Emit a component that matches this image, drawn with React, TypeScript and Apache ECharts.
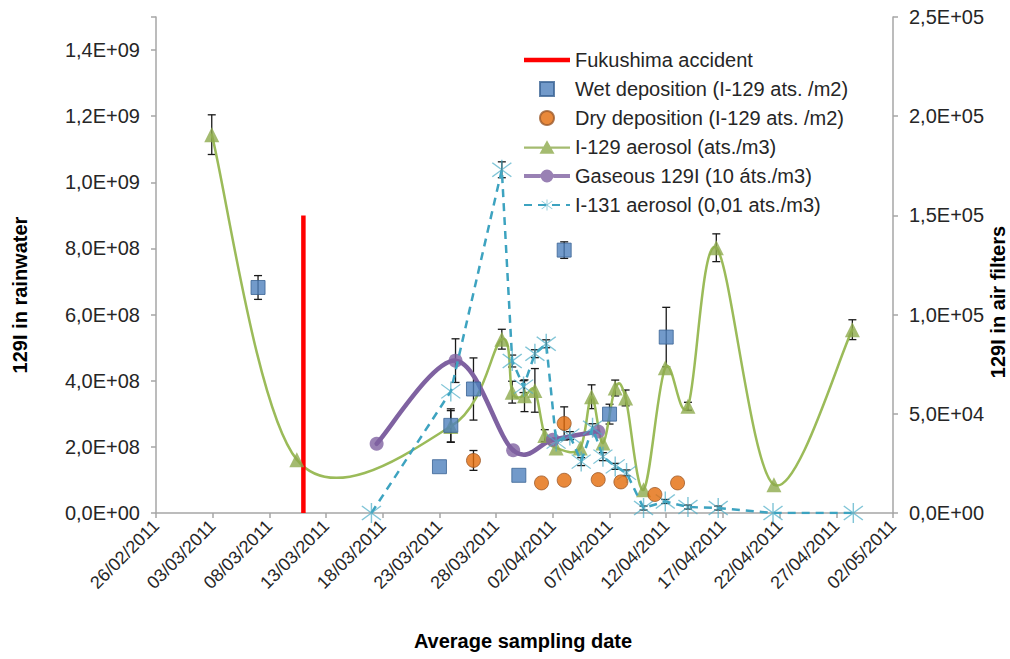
import React, { useEffect, useRef } from 'react';
import * as echarts from 'echarts';

// ---------- data ----------
const baseDate = '2011-02-26T00:00';
const axisEndDate = '2011-05-02T00:00';

const fukushimaDate = '2011-03-11T00:00';
const fukushimaBar = [0, 9.0e8];

const wetDates = ['2011-03-07T00:00', '2011-03-23T00:00', '2011-03-24T00:00', '2011-03-26T00:00', '2011-03-30T00:00', '2011-04-03T00:00', '2011-04-07T00:00', '2011-04-12T00:00'];
const wetValues = [6.82e8, 1.4e8, 2.65e8, 3.75e8, 1.14e8, 7.95e8, 2.99e8, 5.32e8];
const wetErrors = [3.6e7, 0, 5.0e7, 9.4e7, 0, 2.5e7, 3.0e7, 9.0e7];

const dryDates = ['2011-03-26T00:00', '2011-04-01T00:00', '2011-04-03T00:00', '2011-04-03T00:00', '2011-04-06T00:00', '2011-04-08T00:00', '2011-04-11T00:00', '2011-04-13T00:00'];
const dryValues = [1.59e8, 0.91e8, 0.99e8, 2.71e8, 1.01e8, 0.94e8, 0.56e8, 0.91e8];
const dryErrors = [3.0e7, 0, 0, 5.0e7, 0, 0, 0, 0];

const aerosolDates = ['2011-03-02T22:00', '2011-03-10T10:00', '2011-03-24T00:00', '2011-03-28T12:00', '2011-03-29T10:00', '2011-03-30T12:00', '2011-03-31T10:00', '2011-04-01T07:00', '2011-04-02T07:00', '2011-04-04T10:00', '2011-04-05T10:00', '2011-04-06T10:00', '2011-04-07T12:00', '2011-04-08T10:00', '2011-04-10T00:00', '2011-04-11T22:00', '2011-04-13T22:00', '2011-04-16T10:00', '2011-04-21T12:00', '2011-04-28T10:00'];
const aerosolValues = [190700, 26900, 43600, 87600, 60900, 59100, 61800, 39000, 32800, 32800, 58600, 35300, 63000, 58000, 11700, 73200, 53800, 133700, 14300, 92400];
const aerosolErrors = [10000, 0, 8000, 5000, 5500, 8000, 11000, 3000, 0, 0, 6000, 0, 4000, 4000, 0, 0, 2000, 7000, 0, 5000];

const gasDates = ['2011-03-17T11:00', '2011-03-24T10:00', '2011-03-29T12:00', '2011-04-02T00:00', '2011-04-06T00:00'];
const gasValues = [34900, 76800, 31600, 36900, 41100];
const gasErrors = [0, 11000, 0, 0, 0];

const i131Dates = ['2011-03-17T00:00', '2011-03-24T00:00', '2011-03-28T12:00', '2011-03-29T10:00', '2011-03-30T10:00', '2011-03-31T10:00', '2011-04-01T10:00', '2011-04-02T07:00', '2011-04-03T12:00', '2011-04-04T12:00', '2011-04-05T12:00', '2011-04-06T10:00', '2011-04-07T12:00', '2011-04-08T12:00', '2011-04-10T00:00', '2011-04-11T22:00', '2011-04-13T22:00', '2011-04-16T14:00', '2011-04-21T10:00', '2011-04-28T12:00'];
const i131Values = [0, 61300, 173000, 76600, 63700, 80300, 85300, 36000, 39000, 25900, 43000, 28400, 23500, 20200, 2500, 5800, 3000, 2500, 0, 0];
const i131Errors = [0, 0, 4000, 3000, 3000, 2000, 2000, 0, 2000, 2000, 2000, 2000, 1500, 1500, 1000, 1000, 1000, 1000, 0, 0];

const seriesNames = [
  'Fukushima accident',
  'Wet deposition (I-129 ats. /m2)',
  'Dry deposition (I-129 ats. /m2)',
  'I-129 aerosol (ats./m3)',
  'Gaseous 129I (10 áts./m3)',
  'I-131 aerosol (0,01 ats./m3)',
];

const leftAxisName = '129I in rainwater';
const rightAxisName = '129I in air filters';
const xAxisName = 'Average sampling date';

// ---------- helpers ----------
const DAY = 86400000;
const baseMs = Date.parse(baseDate + ':00Z');
const dayOf = (s: string) => (Date.parse(s + ':00Z') - baseMs) / DAY;
const pad = (n: number) => String(n).padStart(2, '0');
const dateLabel = (v: number) => {
  const d = new Date(baseMs + Math.round(v) * DAY);
  return `${pad(d.getUTCDate())}/${pad(d.getUTCMonth() + 1)}/${d.getUTCFullYear()}`;
};
const sci = (v: number) => {
  if (v === 0) return '0,0E+00';
  const e = Math.floor(Math.log10(v) + 1e-9);
  const m = v / Math.pow(10, e);
  return m.toFixed(1).replace('.', ',') + 'E+' + pad(e);
};
const pts = (dates: string[], vals: number[]) => dates.map((d, i) => [dayOf(d), vals[i]]);

const FONT = '"Liberation Sans", Arial, sans-serif';
const AXIS_GRAY = '#A6A6A6';
const TEXT = '#262626';

const GREEN_LINE = '#9BBB59';
const GREEN_MARK = '#8DAA4C';
const PURPLE = '#7F62A1';

const starPath =
  'path://M9.4 0L10.6 0L10.6 20L9.4 20Z M2.4 2.55L18.4 16.55L17.6 17.45L1.6 3.45Z M18.4 3.45L2.4 17.45L1.6 16.55L17.6 2.55Z';

function errorSeries(id: string, dates: string[], vals: number[], errs: number[], yAxisIndex: number) {
  const data = dates
    .map((d, i) => [dayOf(d), vals[i], errs[i]])
    .filter((r) => r[2] > 0);
  return {
    type: 'custom',
    name: id,
    yAxisIndex,
    z: 2,
    silent: true,
    data,
    encode: { x: 0, y: 1 },
    renderItem: (params: any, api: any) => {
      const x = api.value(0);
      const y = api.value(1);
      const e = api.value(2);
      const top = api.coord([x, y + e]);
      const bot = api.coord([x, Math.max(0, y - e)]);
      const c = 4;
      const style = { stroke: '#1a1a1a', lineWidth: 1.3 };
      return {
        type: 'group',
        children: [
          { type: 'line', shape: { x1: top[0], y1: top[1], x2: bot[0], y2: bot[1] }, style },
          { type: 'line', shape: { x1: top[0] - c, y1: top[1], x2: top[0] + c, y2: top[1] }, style },
          { type: 'line', shape: { x1: bot[0] - c, y1: bot[1], x2: bot[0] + c, y2: bot[1] }, style },
        ],
      };
    },
  };
}

// Excel-like smoothed line (Catmull-Rom, 1/6 tangents) drawn through the axes' scales
function smoothCurve(id: string, dates: string[], vals: number[], yAxisIndex: number, stroke: string, lineWidth: number, z: number) {
  const xs = dates.map(dayOf);
  const n = xs.length;
  const data = xs.slice(0, -1).map((x, i) => [x, vals[i]]);
  return {
    type: 'custom',
    name: id,
    yAxisIndex,
    z,
    silent: true,
    data,
    encode: { x: 0, y: 1 },
    renderItem: (params: any, api: any) => {
      const i = params.dataIndex;
      const P = (k: number) => {
        const j = Math.max(0, Math.min(n - 1, k));
        return api.coord([xs[j], vals[j]]);
      };
      const p0 = P(i - 1);
      const p1 = P(i);
      const p2 = P(i + 1);
      const p3 = P(i + 2);
      return {
        type: 'bezierCurve',
        shape: {
          x1: p1[0],
          y1: p1[1],
          x2: p2[0],
          y2: p2[1],
          cpx1: p1[0] + (p2[0] - p0[0]) / 6,
          cpy1: p1[1] + (p2[1] - p0[1]) / 6,
          cpx2: p2[0] - (p3[0] - p1[0]) / 6,
          cpy2: p2[1] - (p3[1] - p1[1]) / 6,
        },
        style: { stroke, lineWidth, fill: 'none', lineCap: 'round' },
      };
    },
  };
}

export default function App() {
  const ref = useRef<HTMLDivElement>(null);

  useEffect(() => {
    if (!ref.current) return;
    const chart = echarts.init(ref.current, undefined, { renderer: 'svg' });
    const axisCommon = {
      axisLine: { show: true, lineStyle: { color: AXIS_GRAY, width: 1.5 } },
      axisTick: { show: true, inside: false, length: 5, lineStyle: { color: AXIS_GRAY, width: 1.5 } },
      splitLine: { show: false },
    };
    const fday = dayOf(fukushimaDate);
    const titleStyle = (text: string) => ({
      text,
      font: `bold 20px ${FONT}`,
      fill: '#000',
      align: 'center',
      verticalAlign: 'middle',
      textAlign: 'center',
      textVerticalAlign: 'middle',
    });
    chart.setOption({
      animation: false,
      backgroundColor: '#ffffff',
      textStyle: { fontFamily: FONT },
      grid: { left: 156, right: 117, top: 17, bottom: 146, containLabel: false },
      xAxis: {
        type: 'value',
        min: 0,
        max: dayOf(axisEndDate),
        interval: 5,
        ...axisCommon,
        axisLabel: {
          rotate: 45,
          margin: 10,
          fontSize: 18,
          fontFamily: FONT,
          color: TEXT,
          formatter: (v: number) => dateLabel(v),
          showMinLabel: true,
          showMaxLabel: true,
          hideOverlap: false,
        },
      },
      yAxis: [
        {
          type: 'value',
          position: 'left',
          min: 0,
          max: 1.5e9,
          interval: 2e8,
          ...axisCommon,
          axisLabel: {
            margin: 16,
            fontSize: 20,
            fontFamily: FONT,
            color: TEXT,
            formatter: (v: number) => (v > 1.45e9 ? '' : sci(v)),
          },
        },
        {
          type: 'value',
          position: 'right',
          min: 0,
          max: 2.5e5,
          interval: 5e4,
          ...axisCommon,
          axisLabel: {
            margin: 16,
            fontSize: 20,
            fontFamily: FONT,
            color: TEXT,
            formatter: (v: number) => sci(v),
          },
        },
      ],
      legend: {
        orient: 'vertical',
        left: 518,
        top: 44,
        padding: 5,
        itemWidth: 46,
        itemHeight: 14,
        itemGap: 7,
        symbolKeepAspect: true,
        selectedMode: false,
        textStyle: { fontSize: 20, fontFamily: FONT, color: TEXT, lineHeight: 22 },
        data: [
          { name: seriesNames[0], icon: 'path://M0 0H46V4.5H0Z' },
          { name: seriesNames[1], icon: 'path://M0 0H10V10H0Z' },
          { name: seriesNames[2], icon: 'circle' },
          { name: seriesNames[3], icon: 'path://M0 6.2H46V8.4H0Z M23 0L30.5 13.5H15.5Z' },
          { name: seriesNames[4], icon: 'path://M0 5H16.6V9H0Z M29.4 5H46V9H29.4Z M16.5 7A6.5 6.5 0 1 1 29.5 7A6.5 6.5 0 1 1 16.5 7Z' },
          { name: seriesNames[5] },
        ],
      },
      graphic: [
        { type: 'text', x: 20, y: 295, rotation: Math.PI / 2, style: titleStyle(leftAxisName) },
        { type: 'text', x: 998, y: 302, rotation: Math.PI / 2, style: titleStyle(rightAxisName) },
        { type: 'text', x: 523, y: 641, style: titleStyle(xAxisName) },
      ],
      series: [
        {
          type: 'line',
          name: seriesNames[0],
          yAxisIndex: 0,
          z: 3,
          data: fukushimaBar.map((v) => [fday, v]),
          showSymbol: false,
          symbol: 'none',
          lineStyle: { color: '#FF0000', width: 4.5 },
          itemStyle: { color: '#FF0000' },
        },
        smoothCurve('curve-aerosol', aerosolDates, aerosolValues, 1, GREEN_LINE, 2.5, 3),
        smoothCurve('curve-gas', gasDates, gasValues, 1, PURPLE, 4.5, 3),
        {
          type: 'scatter',
          name: seriesNames[3],
          yAxisIndex: 1,
          z: 5,
          data: pts(aerosolDates, aerosolValues),
          symbol: 'triangle',
          symbolSize: 15,
          itemStyle: { color: GREEN_MARK },
        },
        {
          type: 'scatter',
          name: seriesNames[4],
          yAxisIndex: 1,
          z: 5,
          data: pts(gasDates, gasValues),
          symbol: 'circle',
          symbolSize: 14,
          itemStyle: { color: PURPLE },
        },
        {
          type: 'line',
          name: seriesNames[5],
          yAxisIndex: 1,
          z: 6,
          data: pts(i131Dates, i131Values),
          symbol: starPath,
          symbolSize: 20,
          lineStyle: { color: '#3DA3C0', width: 2.5, type: [8, 6] },
          itemStyle: { color: 'rgba(75,172,198,0.7)' },
        },
        {
          type: 'scatter',
          name: seriesNames[1],
          yAxisIndex: 0,
          z: 7,
          data: pts(wetDates, wetValues),
          symbol: 'rect',
          symbolSize: 14,
          itemStyle: { color: '#4F81BD', borderColor: '#3A6393', borderWidth: 1 },
        },
        {
          type: 'scatter',
          name: seriesNames[2],
          yAxisIndex: 0,
          z: 7,
          data: pts(dryDates, dryValues),
          symbol: 'circle',
          symbolSize: 14,
          itemStyle: { color: '#E46C0A', borderColor: '#9C5A2A', borderWidth: 1 },
        },
        errorSeries('err-wet', wetDates, wetValues, wetErrors, 0),
        errorSeries('err-dry', dryDates, dryValues, dryErrors, 0),
        errorSeries('err-aerosol', aerosolDates, aerosolValues, aerosolErrors, 1),
        errorSeries('err-gas', gasDates, gasValues, gasErrors, 1),
        errorSeries('err-i131', i131Dates, i131Values, i131Errors, 1),
      ],
    });
    return () => chart.dispose();
  }, []);

  return (
    <div
      ref={ref}
      style={{ position: 'fixed', left: 0, top: 0, width: 1010, height: 659, background: '#fff' }}
    />
  );
}
